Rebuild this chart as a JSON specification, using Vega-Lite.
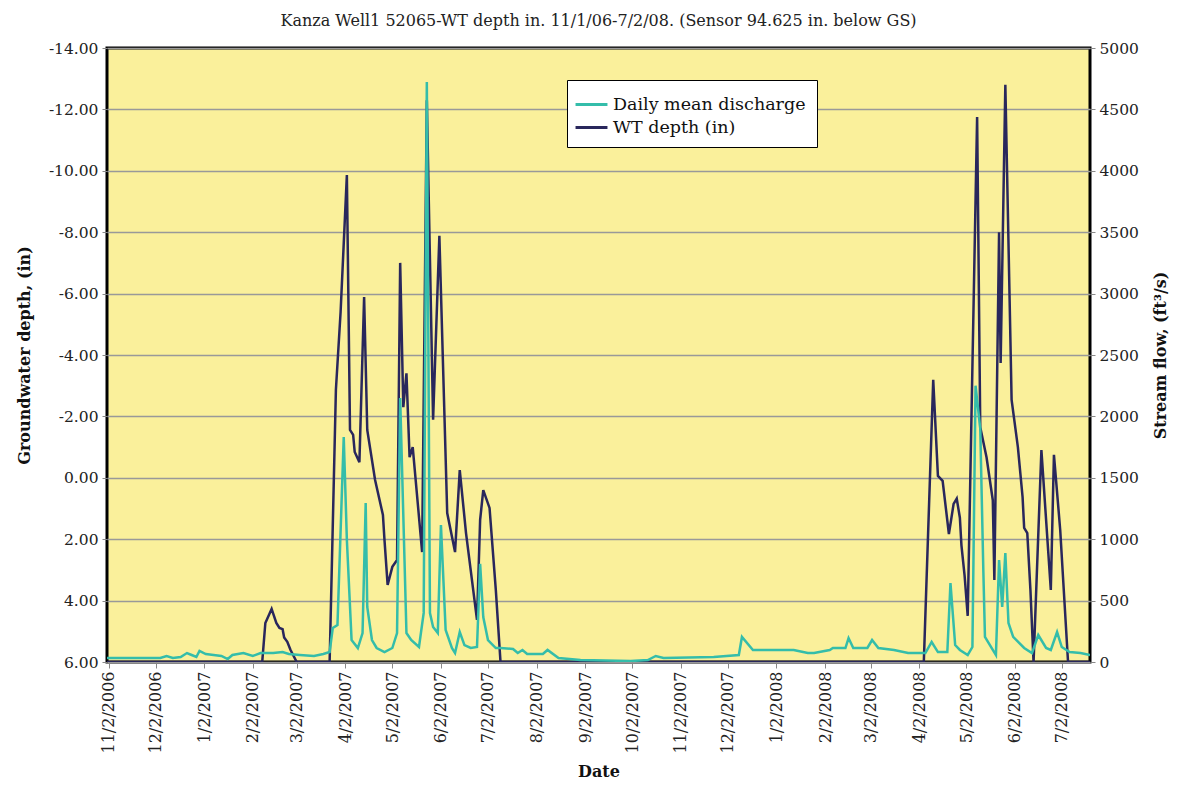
{
  "$schema": "https://vega.github.io/schema/vega-lite/v6.json",
  "width": 983,
  "height": 614,
  "autosize": {"type": "none"},
  "padding": {"left": 107, "top": 48, "right": 90, "bottom": 124},
  "background": "white",
  "title": {
    "text": "Kanza Well1 52065-WT depth in. 11/1/06-7/2/08. (Sensor 94.625 in. below GS)",
    "font": "DejaVu Serif",
    "fontSize": 16,
    "fontWeight": "normal",
    "color": "#222222",
    "offset": 12,
    "anchor": "middle"
  },
  "config": {
    "locale": {"number": {"decimal": ".", "thousands": ",", "grouping": [3], "currency": ["$", ""], "minus": "-"}},
    "view": {"fill": "#FAF09B", "stroke": "#000000", "strokeWidth": 3},
    "axis": {
      "labelFont": "DejaVu Serif",
      "labelColor": "#222222",
      "titleFont": "DejaVu Serif",
      "titleFontWeight": "bold",
      "titleColor": "#111111",
      "titleFontSize": 16,
      "tickColor": "#888888",
      "tickSize": 5,
      "domain": false,
      "gridColor": "#999999",
      "gridWidth": 1.5
    },
    "legend": {
      "labelFont": "DejaVu Serif",
      "labelFontSize": 17.5,
      "labelColor": "#111111",
      "labelLimit": 400
    }
  },
  "datasets": {
    "wt": [
      {"date": "2006-11-01", "depth": 6},
      {"date": "2007-02-08", "depth": 6},
      {"date": "2007-02-10", "depth": 4.73},
      {"date": "2007-02-14", "depth": 4.27},
      {"date": "2007-02-17", "depth": 4.73},
      {"date": "2007-02-19", "depth": 4.89},
      {"date": "2007-02-21", "depth": 4.93},
      {"date": "2007-02-22", "depth": 5.2},
      {"date": "2007-02-24", "depth": 5.34},
      {"date": "2007-02-26", "depth": 5.6},
      {"date": "2007-03-02", "depth": 6},
      {"date": "2007-03-23", "depth": 6},
      {"date": "2007-03-27", "depth": -2.86},
      {"date": "2007-03-30", "depth": -5.4},
      {"date": "2007-04-03", "depth": -9.86},
      {"date": "2007-04-05", "depth": -1.56},
      {"date": "2007-04-07", "depth": -1.4},
      {"date": "2007-04-08", "depth": -0.84},
      {"date": "2007-04-11", "depth": -0.51},
      {"date": "2007-04-14", "depth": -5.89},
      {"date": "2007-04-16", "depth": -1.56},
      {"date": "2007-04-21", "depth": 0.07},
      {"date": "2007-04-26", "depth": 1.21},
      {"date": "2007-04-27", "depth": 2.03},
      {"date": "2007-04-29", "depth": 3.49},
      {"date": "2007-05-02", "depth": 2.9},
      {"date": "2007-05-05", "depth": 2.68},
      {"date": "2007-05-07", "depth": -7.0},
      {"date": "2007-05-09", "depth": -2.3},
      {"date": "2007-05-11", "depth": -3.4},
      {"date": "2007-05-13", "depth": -0.67},
      {"date": "2007-05-15", "depth": -1.0},
      {"date": "2007-05-21", "depth": 2.42},
      {"date": "2007-05-24", "depth": -12.3},
      {"date": "2007-05-28", "depth": -1.89},
      {"date": "2007-06-01", "depth": -7.88},
      {"date": "2007-06-06", "depth": 1.15},
      {"date": "2007-06-11", "depth": 2.42},
      {"date": "2007-06-14", "depth": -0.25},
      {"date": "2007-06-18", "depth": 1.8},
      {"date": "2007-06-25", "depth": 4.63},
      {"date": "2007-06-27", "depth": 1.37},
      {"date": "2007-06-29", "depth": 0.4},
      {"date": "2007-07-03", "depth": 0.98},
      {"date": "2007-07-07", "depth": 3.65},
      {"date": "2007-07-10", "depth": 6},
      {"date": "2008-04-05", "depth": 6},
      {"date": "2008-04-11", "depth": -3.19},
      {"date": "2008-04-14", "depth": -0.06},
      {"date": "2008-04-17", "depth": 0.1},
      {"date": "2008-04-21", "depth": 1.83},
      {"date": "2008-04-24", "depth": 0.85},
      {"date": "2008-04-26", "depth": 0.68},
      {"date": "2008-04-28", "depth": 1.3},
      {"date": "2008-04-29", "depth": 2.2},
      {"date": "2008-05-01", "depth": 3.18},
      {"date": "2008-05-03", "depth": 4.5},
      {"date": "2008-05-09", "depth": -11.75},
      {"date": "2008-05-11", "depth": -1.65},
      {"date": "2008-05-15", "depth": -0.67},
      {"date": "2008-05-19", "depth": 0.73},
      {"date": "2008-05-20", "depth": 3.33},
      {"date": "2008-05-23", "depth": -8.0},
      {"date": "2008-05-24", "depth": -3.74},
      {"date": "2008-05-27", "depth": -12.8},
      {"date": "2008-05-31", "depth": -2.54},
      {"date": "2008-06-04", "depth": -1.0},
      {"date": "2008-06-07", "depth": 0.63},
      {"date": "2008-06-08", "depth": 1.63},
      {"date": "2008-06-10", "depth": 1.8},
      {"date": "2008-06-12", "depth": 3.65},
      {"date": "2008-06-14", "depth": 6},
      {"date": "2008-06-19", "depth": -0.9},
      {"date": "2008-06-25", "depth": 3.65},
      {"date": "2008-06-27", "depth": -0.75},
      {"date": "2008-07-01", "depth": 1.7},
      {"date": "2008-07-06", "depth": 6},
      {"date": "2008-07-20", "depth": 6}
    ],
    "flow": [
      {"date": "2006-11-01", "q": 33},
      {"date": "2006-11-18", "q": 33},
      {"date": "2006-12-05", "q": 33},
      {"date": "2006-12-09", "q": 49},
      {"date": "2006-12-13", "q": 33},
      {"date": "2006-12-18", "q": 41},
      {"date": "2006-12-22", "q": 73},
      {"date": "2006-12-25", "q": 57},
      {"date": "2006-12-28", "q": 41},
      {"date": "2006-12-30", "q": 90},
      {"date": "2007-01-03", "q": 65},
      {"date": "2007-01-08", "q": 57},
      {"date": "2007-01-13", "q": 49},
      {"date": "2007-01-17", "q": 24},
      {"date": "2007-01-20", "q": 57},
      {"date": "2007-01-27", "q": 73},
      {"date": "2007-02-02", "q": 49},
      {"date": "2007-02-07", "q": 73},
      {"date": "2007-02-15", "q": 73},
      {"date": "2007-02-21", "q": 81},
      {"date": "2007-02-25", "q": 65},
      {"date": "2007-03-04", "q": 57},
      {"date": "2007-03-13", "q": 49},
      {"date": "2007-03-19", "q": 65},
      {"date": "2007-03-23", "q": 81},
      {"date": "2007-03-25", "q": 277},
      {"date": "2007-03-28", "q": 301},
      {"date": "2007-04-01", "q": 1832},
      {"date": "2007-04-03", "q": 993},
      {"date": "2007-04-06", "q": 179},
      {"date": "2007-04-10", "q": 114},
      {"date": "2007-04-13", "q": 236},
      {"date": "2007-04-15", "q": 1295},
      {"date": "2007-04-16", "q": 448},
      {"date": "2007-04-19", "q": 179},
      {"date": "2007-04-22", "q": 114},
      {"date": "2007-04-27", "q": 81},
      {"date": "2007-05-02", "q": 114},
      {"date": "2007-05-05", "q": 236},
      {"date": "2007-05-07", "q": 2150},
      {"date": "2007-05-11", "q": 236},
      {"date": "2007-05-14", "q": 179},
      {"date": "2007-05-19", "q": 122},
      {"date": "2007-05-22", "q": 400},
      {"date": "2007-05-24", "q": 4723},
      {"date": "2007-05-26", "q": 399},
      {"date": "2007-05-28", "q": 285},
      {"date": "2007-05-31", "q": 236},
      {"date": "2007-06-02", "q": 1116},
      {"date": "2007-06-05", "q": 261},
      {"date": "2007-06-09", "q": 114},
      {"date": "2007-06-11", "q": 73},
      {"date": "2007-06-14", "q": 244},
      {"date": "2007-06-17", "q": 138},
      {"date": "2007-06-21", "q": 114},
      {"date": "2007-06-25", "q": 122},
      {"date": "2007-06-27", "q": 800},
      {"date": "2007-06-29", "q": 366},
      {"date": "2007-07-02", "q": 179},
      {"date": "2007-07-07", "q": 114},
      {"date": "2007-07-10", "q": 114},
      {"date": "2007-07-18", "q": 106},
      {"date": "2007-07-21", "q": 73},
      {"date": "2007-07-24", "q": 98},
      {"date": "2007-07-27", "q": 65},
      {"date": "2007-08-06", "q": 65},
      {"date": "2007-08-09", "q": 98},
      {"date": "2007-08-16", "q": 33},
      {"date": "2007-08-30", "q": 16},
      {"date": "2007-10-01", "q": 8},
      {"date": "2007-10-12", "q": 16},
      {"date": "2007-10-17", "q": 49},
      {"date": "2007-10-22", "q": 33},
      {"date": "2007-11-23", "q": 41},
      {"date": "2007-12-09", "q": 57},
      {"date": "2007-12-11", "q": 204},
      {"date": "2007-12-18", "q": 98},
      {"date": "2008-01-13", "q": 98},
      {"date": "2008-01-22", "q": 73},
      {"date": "2008-01-26", "q": 73},
      {"date": "2008-02-05", "q": 98},
      {"date": "2008-02-07", "q": 114},
      {"date": "2008-02-15", "q": 114},
      {"date": "2008-02-17", "q": 195},
      {"date": "2008-02-20", "q": 114},
      {"date": "2008-02-29", "q": 114},
      {"date": "2008-03-03", "q": 179},
      {"date": "2008-03-07", "q": 114},
      {"date": "2008-03-17", "q": 98},
      {"date": "2008-03-26", "q": 73},
      {"date": "2008-04-06", "q": 73},
      {"date": "2008-04-10", "q": 163},
      {"date": "2008-04-14", "q": 81},
      {"date": "2008-04-20", "q": 81},
      {"date": "2008-04-22", "q": 643},
      {"date": "2008-04-25", "q": 138},
      {"date": "2008-04-28", "q": 98},
      {"date": "2008-05-03", "q": 57},
      {"date": "2008-05-06", "q": 122},
      {"date": "2008-05-08", "q": 2250},
      {"date": "2008-05-11", "q": 1900},
      {"date": "2008-05-13", "q": 725},
      {"date": "2008-05-14", "q": 204},
      {"date": "2008-05-19", "q": 98},
      {"date": "2008-05-21", "q": 57},
      {"date": "2008-05-23", "q": 830},
      {"date": "2008-05-25", "q": 448},
      {"date": "2008-05-27", "q": 888},
      {"date": "2008-05-29", "q": 318},
      {"date": "2008-06-01", "q": 204},
      {"date": "2008-06-08", "q": 114},
      {"date": "2008-06-13", "q": 73},
      {"date": "2008-06-17", "q": 220},
      {"date": "2008-06-22", "q": 114},
      {"date": "2008-06-25", "q": 98},
      {"date": "2008-06-29", "q": 244},
      {"date": "2008-07-02", "q": 122},
      {"date": "2008-07-07", "q": 81},
      {"date": "2008-07-14", "q": 73},
      {"date": "2008-07-20", "q": 57}
    ]
  },
  "layer": [
    {
      "data": {"name": "wt"},
      "mark": {"type": "line", "strokeWidth": 2.5, "clip": true},
      "encoding": {
        "x": {
          "field": "date",
          "type": "temporal",
          "scale": {
            "type": "utc",
            "domain": [1162339200000, 1216512000000]
          },
          "axis": {
            "title": "Date",
            "format": "%-m/%-d/%Y",
            "labelAngle": -90,
            "labelFontSize": 16,
            "labelPadding": 3,
            "tickSize": 6,
            "titlePadding": 10,
            "grid": false,
            "values": [1162425600000, 1165017600000, 1167696000000, 1170374400000, 1172793600000, 1175472000000, 1178064000000, 1180742400000, 1183334400000, 1186012800000, 1188691200000, 1191283200000, 1193961600000, 1196553600000, 1199232000000, 1201910400000, 1204416000000, 1207094400000, 1209686400000, 1212364800000, 1214956800000]
          }
        },
        "y": {
          "field": "depth",
          "type": "quantitative",
          "scale": {"domain": [-14, 6], "reverse": true, "nice": false, "zero": false},
          "axis": {
            "orient": "left",
            "title": "Groundwater depth, (in)",
            "format": ".2f",
            "values": [-14, -12, -10, -8, -6, -4, -2, 0, 2, 4, 6],
            "labelFontSize": 15.5,
            "labelPadding": 4,
            "titlePadding": 16,
            "grid": true
          }
        },
        "color": {
          "datum": "WT depth (in)",
          "type": "nominal",
          "scale": {"domain": ["Daily mean discharge", "WT depth (in)"], "range": ["#34BDAA", "#29275C"]},
          "legend": {
            "title": null,
            "orient": "none",
            "legendX": 460,
            "legendY": 32,
            "symbolType": "M-1.33,0H1.33",
            "symbolSize": 576,
            "symbolStrokeWidth": 3,
            "labelOffset": 8,
            "rowPadding": 1,
            "padding": 11,
            "fillColor": "#FFFFFF",
            "strokeColor": "#000000"
          }
        }
      }
    },
    {
      "data": {"name": "flow"},
      "mark": {"type": "line", "strokeWidth": 2.5, "clip": true, "color": "#22A98A"},
      "encoding": {
        "x": {"field": "date", "type": "temporal"},
        "y": {
          "field": "q",
          "type": "quantitative",
          "scale": {"domain": [0, 5000], "nice": false},
          "axis": {
            "orient": "right",
            "title": "Stream flow, (ft³/s)",
            "titleAngle": 270,
            "titleBaseline": "top",
            "format": "d",
            "values": [0, 500, 1000, 1500, 2000, 2500, 3000, 3500, 4000, 4500, 5000],
            "labelFontSize": 15.5,
            "labelPadding": 4,
            "titlePadding": 14,
            "grid": false
          }
        },
        "color": {"datum": "Daily mean discharge", "type": "nominal"}
      }
    }
  ],
  "resolve": {"scale": {"y": "independent"}}
}
